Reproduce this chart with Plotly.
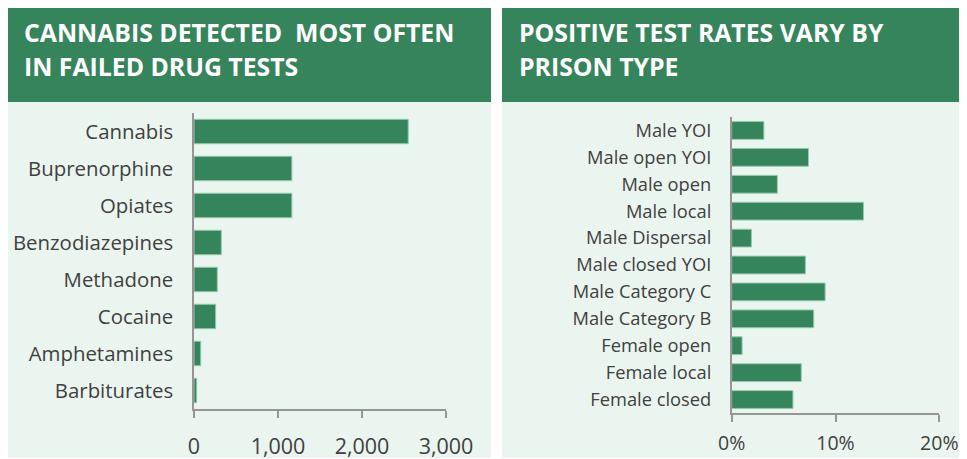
import plotly.graph_objects as go

W, H = 967, 459
OFF = 8  # page body margin

drugs = ["Cannabis", "Buprenorphine", "Opiates", "Benzodiazepines",
         "Methadone", "Cocaine", "Amphetamines", "Barbiturates"]
drug_counts = [2550, 1165, 1165, 325, 277, 258, 80, 32]
count_ticks = [0, 1000, 2000, 3000]

prisons = ["Male YOI", "Male open YOI", "Male open", "Male local",
           "Male Dispersal", "Male closed YOI", "Male Category C",
           "Male Category B", "Female open", "Female local", "Female closed"]
positive_rates = [3.1, 7.4, 4.4, 12.7, 1.9, 7.1, 9.0, 7.9, 1.0, 6.7, 5.9]
rate_ticks = [0, 10, 20]
rate_tick_labels = ["0%", "10%", "20%"]

title_left = ["CANNABIS DETECTED  MOST OFTEN", "IN FAILED DRUG TESTS"]
title_right = ["POSITIVE TEST RATES VARY BY", "PRISON TYPE"]

GREEN = "rgb(53,132,91)"
LIGHT = "rgb(235,245,239)"
EDGE = "rgb(150,200,172)"
TEXT = "rgb(64,64,64)"
AXIS = "rgb(150,150,150)"
FONT = "Open Sans"


def px(x):
    return (x - OFF) / W


def py(y):
    return 1 - (y - OFF) / H


fig = go.Figure()
fig.add_trace(go.Bar(x=drug_counts, y=drugs, orientation="h",
                     marker=dict(color=GREEN, line=dict(color=EDGE, width=1)),
                     xaxis="x", yaxis="y", hoverinfo="x+y"))
fig.add_trace(go.Bar(x=positive_rates, y=prisons, orientation="h",
                     marker=dict(color=GREEN, line=dict(color=EDGE, width=1)),
                     xaxis="x2", yaxis="y2", hoverinfo="x+y"))

shapes = []
for x0, x1 in [(7, 491), (502, 975)]:
    shapes.append(dict(type="rect", xref="paper", yref="paper", layer="below",
                       x0=px(x0), x1=px(x1), y0=py(458), y1=py(102),
                       fillcolor=LIGHT, line=dict(width=0)))
    shapes.append(dict(type="rect", xref="paper", yref="paper", layer="below",
                       x0=px(x0), x1=px(x1), y0=py(102), y1=py(6),
                       fillcolor=GREEN, line=dict(width=0)))

annotations = []
for lines, x0 in [(title_left, 22), (title_right, 517)]:
    for i, t in enumerate(lines):
        annotations.append(dict(text="<b>" + t + "</b>", xref="paper", yref="paper",
                                x=px(x0), y=py(32 + 34 * i), xanchor="left",
                                yanchor="middle", showarrow=False,
                                font=dict(family=FONT, size=24.8, color="white")))

common_x = dict(showline=True, linecolor=AXIS, linewidth=1.5, ticks="outside",
                ticklen=7, tickcolor=AXIS, tickwidth=1.5, showgrid=False,
                zeroline=False, automargin=False, fixedrange=True)
common_y = dict(showline=True, linecolor=AXIS, linewidth=1.5, ticks="",
                showgrid=False, autorange="reversed", ticklabelstandoff=15,
                automargin=False, fixedrange=True)

fig.update_layout(
    width=W, height=H, margin=dict(l=0, r=0, t=0, b=0, pad=0, autoexpand=False),
    paper_bgcolor="white", plot_bgcolor="rgba(0,0,0,0)",
    showlegend=False, bargap=0.34,
    shapes=shapes, annotations=annotations,
    xaxis=dict(domain=[px(194), px(446)], range=[0, 3000], tickvals=count_ticks,
               tickformat=",", anchor="y", ticklabelstandoff=10,
               tickfont=dict(family=FONT, size=21.5, color=TEXT), **common_x),
    yaxis=dict(domain=[py(409), py(113)], anchor="x",
               tickfont=dict(family=FONT, size=20.4, color=TEXT), **common_y),
    xaxis2=dict(domain=[px(731.7), px(939.3)], range=[0, 20], tickvals=rate_ticks,
                ticktext=rate_tick_labels, anchor="y2", ticklabelstandoff=5,
                tickfont=dict(family=FONT, size=19.5, color=TEXT), **common_x),
    yaxis2=dict(domain=[py(413), py(117)], anchor="x2",
                tickfont=dict(family=FONT, size=18.3, color=TEXT), **common_y),
)

fig.write_html("out.html")
